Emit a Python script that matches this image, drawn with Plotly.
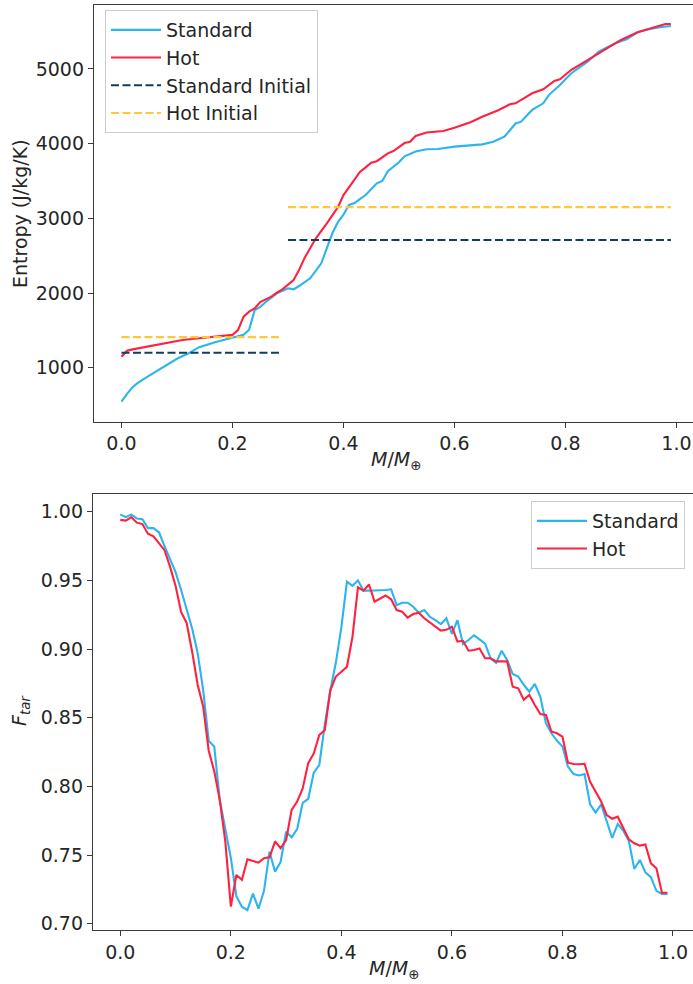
import plotly.graph_objects as go

# ---------------- Top panel: entropy profiles ----------------
std_mass = [0.00, 0.005, 0.01, 0.02, 0.03, 0.05, 0.08, 0.10, 0.12, 0.14, 0.17, 0.20, 0.22, 0.23,
            0.24, 0.25, 0.26, 0.28, 0.30, 0.31, 0.32, 0.34, 0.36, 0.37, 0.38, 0.39, 0.40, 0.41,
            0.42, 0.43, 0.44, 0.46, 0.47, 0.48, 0.50, 0.51, 0.53, 0.55, 0.57, 0.60, 0.65, 0.67,
            0.69, 0.70, 0.71, 0.72, 0.74, 0.76, 0.77, 0.79, 0.81, 0.84, 0.86, 0.89, 0.91, 0.93,
            0.95, 0.97, 0.99]
std_entropy = [545, 600, 650, 740, 800, 895, 1036, 1120, 1190, 1275, 1345, 1400, 1440, 1510,
               1770, 1815, 1880, 1995, 2063, 2050, 2094, 2197, 2398, 2600, 2800, 2950, 3050, 3180,
               3205, 3260, 3312, 3469, 3500, 3630, 3750, 3830, 3895, 3924, 3928, 3960, 3990, 4026,
               4093, 4180, 4270, 4294, 4451, 4540, 4650, 4785, 4940, 5097, 5231, 5343, 5397, 5491,
               5531, 5560, 5575]

hot_mass = [0.00, 0.01, 0.02, 0.05, 0.08, 0.11, 0.14, 0.17, 0.20, 0.21, 0.22, 0.23, 0.24, 0.25,
            0.27, 0.28, 0.29, 0.31, 0.32, 0.33, 0.35, 0.37, 0.39, 0.40, 0.41, 0.43, 0.44, 0.45,
            0.46, 0.48, 0.49, 0.51, 0.52, 0.53, 0.55, 0.57, 0.58, 0.60, 0.63, 0.65, 0.68, 0.70,
            0.71, 0.74, 0.76, 0.78, 0.79, 0.81, 0.84, 0.87, 0.90, 0.93, 0.96, 0.98, 0.99]
hot_entropy = [1147, 1228, 1246, 1290, 1330, 1371, 1394, 1415, 1440, 1505, 1683, 1750, 1795, 1880,
               1951, 2004, 2050, 2174, 2308, 2470, 2730, 2934, 3150, 3312, 3420, 3624, 3683, 3745,
               3765, 3870, 3901, 4008, 4026, 4103, 4150, 4165, 4170, 4214, 4290, 4360, 4450, 4527,
               4540, 4674, 4727, 4839, 4862, 4986, 5120, 5254, 5388, 5491, 5558, 5602, 5602]

initial_mass = [0.00, 0.29, None, 0.30, 0.99]
std_initial = [1200, 1200, None, 2710, 2710]
hot_initial = [1410, 1410, None, 3150, 3150]

# ---------------- Bottom panel: F_tar ----------------
ftar_mass = [i / 100 for i in range(100)]
std_ftar = [0.998, 0.996, 0.998, 0.995, 0.9945, 0.988, 0.988, 0.985, 0.975, 0.966,
            0.956, 0.943, 0.929, 0.915, 0.897, 0.870, 0.833, 0.829, 0.790, 0.768,
            0.748, 0.720, 0.7125, 0.710, 0.722, 0.711, 0.724, 0.7525, 0.738, 0.745,
            0.767, 0.763, 0.769, 0.788, 0.791, 0.810, 0.8156, 0.845, 0.870, 0.890,
            0.916, 0.949, 0.946, 0.950, 0.9425, 0.9425, 0.9425, 0.943, 0.943, 0.9435,
            0.932, 0.9337, 0.9337, 0.9308, 0.9265, 0.9284, 0.9235, 0.921, 0.9182, 0.9224,
            0.911, 0.921, 0.9037, 0.9066, 0.910, 0.907, 0.904, 0.8933, 0.890, 0.8988,
            0.892, 0.8818, 0.880, 0.874, 0.869, 0.8746, 0.8653, 0.846, 0.8387, 0.8333,
            0.829, 0.8144, 0.809, 0.808, 0.809, 0.787, 0.781, 0.787, 0.774, 0.7625,
            0.7727, 0.7678, 0.7605, 0.740, 0.7465, 0.7375, 0.734, 0.724, 0.7217, 0.7217]
hot_ftar = [0.994, 0.9935, 0.996, 0.992, 0.991, 0.984, 0.982, 0.977, 0.972, 0.960,
            0.946, 0.927, 0.919, 0.898, 0.874, 0.858, 0.826, 0.811, 0.790, 0.760,
            0.7125, 0.7355, 0.732, 0.747, 0.746, 0.7445, 0.7477, 0.7484, 0.760, 0.755,
            0.761, 0.783, 0.789, 0.7986, 0.817, 0.824, 0.8374, 0.841, 0.870, 0.880,
            0.8835, 0.887, 0.9086, 0.945, 0.9425, 0.947, 0.9345, 0.937, 0.939, 0.9362,
            0.9284, 0.9272, 0.9228, 0.9255, 0.9265, 0.9224, 0.9192, 0.9163, 0.9134, 0.914,
            0.9163, 0.9054, 0.906, 0.8988, 0.8993, 0.9005, 0.8933, 0.8933, 0.891, 0.891,
            0.891, 0.8726, 0.8714, 0.863, 0.8666, 0.8593, 0.8527, 0.852, 0.840, 0.8387,
            0.8362, 0.8173, 0.8163, 0.8161, 0.8165, 0.8034, 0.7962, 0.789, 0.7792, 0.7765,
            0.778, 0.7692, 0.7615, 0.7586, 0.7569, 0.7577, 0.744, 0.7404, 0.7226, 0.7226]

top_xticks = [0.0, 0.2, 0.4, 0.6, 0.8, 1.0]
top_yticks = [1000, 2000, 3000, 4000, 5000]
bot_yticks = [0.70, 0.75, 0.80, 0.85, 0.90, 0.95, 1.00]

BLUE = "#2bb4ee"
RED = "#ff2240"
NAVY = "#113d5e"
GOLD = "#ffc83a"
FONT = "DejaVu Sans"
TXT = "#262626"
SPINE = "#3a3a3a"
LW = 2.1

fig = go.Figure()
fig.add_trace(go.Scatter(x=std_mass, y=std_entropy, mode="lines", name="Standard",
                         line=dict(color=BLUE, width=LW), xaxis="x", yaxis="y", legend="legend"))
fig.add_trace(go.Scatter(x=hot_mass, y=hot_entropy, mode="lines", name="Hot",
                         line=dict(color=RED, width=LW), xaxis="x", yaxis="y", legend="legend"))
fig.add_trace(go.Scatter(x=initial_mass, y=std_initial, mode="lines", name="Standard Initial",
                         line=dict(color=NAVY, width=LW, dash="8px,3.5px"), connectgaps=False,
                         xaxis="x", yaxis="y", legend="legend"))
fig.add_trace(go.Scatter(x=initial_mass, y=hot_initial, mode="lines", name="Hot Initial",
                         line=dict(color=GOLD, width=LW, dash="8px,3.5px"), connectgaps=False,
                         xaxis="x", yaxis="y", legend="legend"))

fig.add_trace(go.Scatter(x=ftar_mass, y=std_ftar, mode="lines", name="Standard",
                         line=dict(color=BLUE, width=LW), xaxis="x2", yaxis="y2", legend="legend2"))
fig.add_trace(go.Scatter(x=ftar_mass, y=hot_ftar, mode="lines", name="Hot",
                         line=dict(color=RED, width=LW), xaxis="x2", yaxis="y2", legend="legend2"))

axis_common = dict(ticks="outside", ticklen=5, tickwidth=1.3, tickcolor=SPINE,
                   showline=True, linecolor=SPINE, linewidth=1.3, showgrid=False,
                   zeroline=False, tickfont=dict(family=FONT, size=19, color=TXT))

legend_common = dict(bgcolor="rgba(255,255,255,0.8)", bordercolor="#cccccc", borderwidth=1,
                     font=dict(family=FONT, size=19, color=TXT), itemwidth=50,
                     xref="paper", yref="paper")

fig.update_layout(
    width=693, height=984, autosize=False,
    margin=dict(l=93, r=0, t=5, b=54),
    paper_bgcolor="white", plot_bgcolor="white",
    font=dict(family=FONT, size=19, color=TXT),
    xaxis=dict(domain=[1 / 600, 1], anchor="y", range=[-0.0495, 1.0298],
               tickvals=top_xticks, tickformat=".1f", mirror=True, **axis_common),
    yaxis=dict(domain=[0.5497, 1], anchor="x", range=[280, 5856],
               tickvals=top_yticks, **axis_common),
    xaxis2=dict(domain=[0, 1], anchor="y2", range=[-0.0494, 1.0362],
                tickvals=top_xticks, tickformat=".1f", mirror=True, **axis_common),
    yaxis2=dict(domain=[0, 0.4714], anchor="x2", range=[0.6955, 1.0129],
                tickvals=bot_yticks, tickformat=".2f", **axis_common),
    legend=dict(x=0.02, y=0.9946, xanchor="left", yanchor="top", **legend_common),
    legend2=dict(x=0.9867, y=0.4638, xanchor="right", yanchor="top", **legend_common),
    showlegend=True,
)

ann_font = dict(family=FONT, size=19, color=TXT)
fig.add_annotation(text="Entropy (J/kg/K)", xref="paper", yref="paper", x=-0.1217, y=0.7751,
                   textangle=-90, showarrow=False, xanchor="center", yanchor="middle", font=ann_font)
fig.add_annotation(text="<i>M</i>/<i>M</i><sub>⊕</sub>", xref="paper", yref="paper",
                   x=0.505, y=0.5081, showarrow=False, xanchor="center", yanchor="middle", font=ann_font)
fig.add_annotation(text="<i>F</i><sub><i>tar</i></sub>", xref="paper", yref="paper",
                   x=-0.1217, y=0.2378, textangle=-90, showarrow=False,
                   xanchor="center", yanchor="middle", font=ann_font)
fig.add_annotation(text="<i>M</i>/<i>M</i><sub>⊕</sub>", xref="paper", yref="paper",
                   x=0.5017, y=-0.0432, showarrow=False, xanchor="center", yanchor="middle", font=ann_font)

fig.write_html("out.html")
